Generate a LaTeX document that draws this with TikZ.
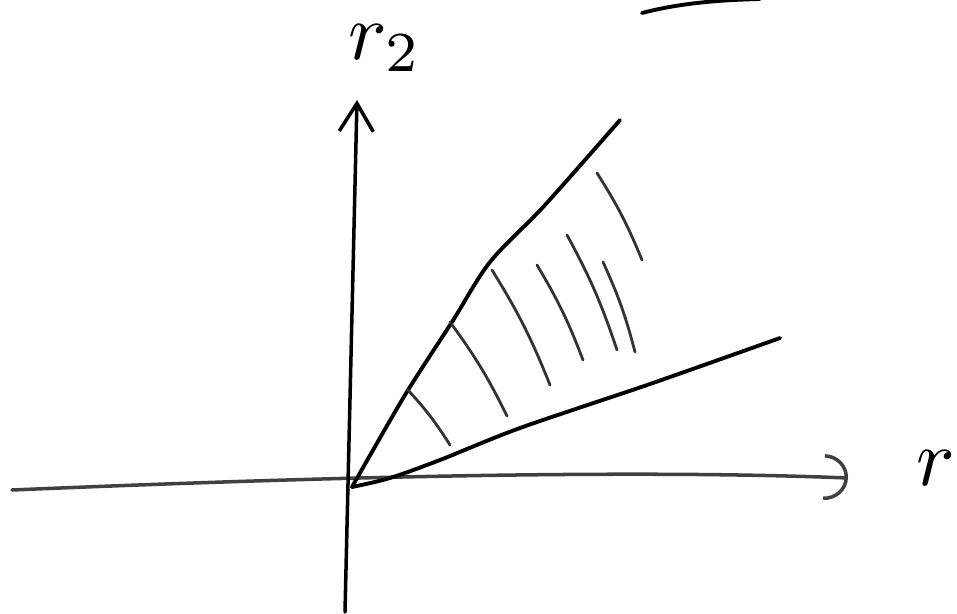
\documentclass[tikz,border=0pt]{standalone}
\usepackage{tikz}
\usetikzlibrary{arrows.meta}

\begin{document}
\begin{tikzpicture}[
  x=0.1mm, y=-0.1mm,
  axis/.style={line width=1pt, line cap=round},
  ray/.style={line width=1.1pt, line cap=round},
  hatch/.style={line width=0.8pt, black!80, line cap=round},
  lbl/.style={inner sep=0pt}
]
  \useasboundingbox (0,0) rectangle (957,614);
  \coordinate (o) at (352,487);
  \coordinate (xl) at (12,490);
  \coordinate (xr) at (848,478);
  \coordinate (yb) at (345,612);
  \coordinate (yt) at (357,100);
  % axes
  \draw[axis, black!75, -{Arc Barb[length=2.4mm, width=4.6mm]}] (xl) .. controls (250,480) and (600,468) .. (xr);
  \draw[axis, -{Straight Barb[length=2.8mm, width=3.4mm]}] (yb) -- (yt);
  % the two rays of the cone
  \draw[ray] plot[smooth] coordinates {(o) (405,395) (452,322) (490,262) (545,205) (620,120)};
  \draw[ray] plot[smooth] coordinates {(o) (390,478) (440,460) (520,428) (650,384) (780,338)};
  % hatching
  \foreach \xa/\ya/\xb/\yb in {408/390/450/445, 450/322/507/416, 492/270/550/385,
      537/265/583/360, 567/235/617/350, 603/262/635/352, 597/173/642/260}
    \draw[hatch] (\xa,\ya) to[bend left=5] (\xb,\yb);
  % stroke cut off at the top
  \draw[ray] (642,13) .. controls (680,3) and (720,0) .. (760,-1);
  % labels
  \node[lbl] (rtwo) at (385,48) {\scalebox{2.3}{$r_2$}};
  \node[lbl] (rlab) at (936,468) {\scalebox{2.3}{$r$}};
\end{tikzpicture}
\end{document}
